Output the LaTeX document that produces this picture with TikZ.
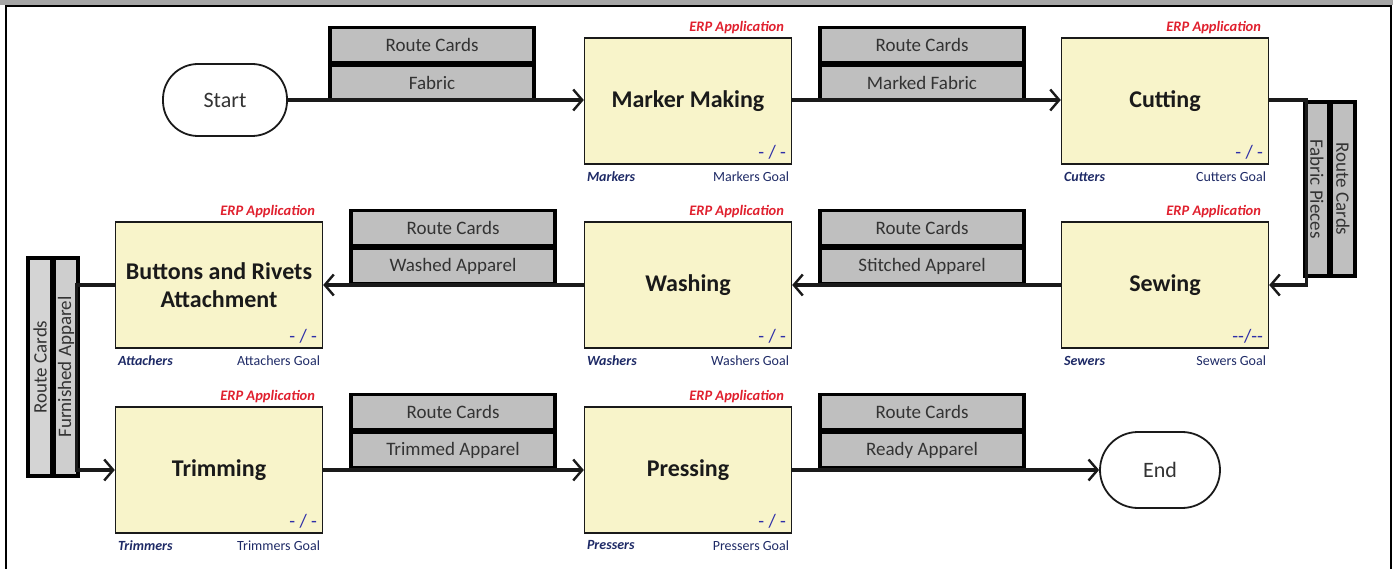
\documentclass[tikz,border=0pt]{standalone}
\usepackage{fontspec}
\setmainfont{Carlito}
\usetikzlibrary{positioning,arrows.meta,calc}
\definecolor{cYellow}{HTML}{F8F4CA}
\definecolor{cCard}{HTML}{BFBFBF}
\definecolor{cCardLight}{HTML}{D4D4D4}
\definecolor{cRed}{HTML}{E0202E}
\definecolor{cNavy}{HTML}{1E2A66}
\definecolor{cBlue}{HTML}{2E2EA8}
\definecolor{cDark}{HTML}{1A1A1A}
\definecolor{cText}{HTML}{333333}
\definecolor{cBand}{HTML}{A5A5A5}

\begin{document}
\begin{tikzpicture}[
  x=1pt, y=-1pt,
  proc/.style={draw=cDark, fill=cYellow, line width=1.4pt, minimum width=207pt,
               minimum height=126pt, inner sep=0pt, align=center, text=cDark,
               font=\fontsize{24}{28}\selectfont\bfseries},
  term/.style={draw=cDark, fill=white, line width=1.8pt, rounded corners=35pt,
               minimum width=124pt, minimum height=72pt, text=cText,
               font=\fontsize{22}{24}\selectfont},
  card/.style={draw=black, fill=cCard, line width=3.4pt, minimum width=204pt,
               minimum height=35pt, inner sep=0pt, text=cText,
               font=\fontsize{19}{21}\selectfont},
  vcard/.style={card, minimum height=24pt},
  flow/.style={-{Straight Barb[length=9pt, width=21pt, line width=2.4pt]}, draw=cDark, line width=3.2pt},
  erp/.style={font=\fontsize{14.5}{15}\selectfont\bfseries\itshape, text=cRed, inner sep=1pt},
  crew/.style={font=\fontsize{14}{15}\selectfont\bfseries\itshape, text=cNavy, inner sep=1pt},
  goal/.style={font=\fontsize{14}{15}\selectfont, text=cNavy, inner sep=1pt},
  ratio/.style={font=\fontsize{19}{20}\selectfont, text=cBlue, inner sep=1pt},
]
\useasboundingbox (0,0) rectangle (1393,569);
% ---- frame
\fill[cBand] (0,0) rectangle (1393,5);
\draw[line width=2.4pt] (6,569) -- (6,6) -- (1391,6) -- (1391,569);

% ---- row 1
\node[term] (start) at (225,100) {Start};
\node[proc] (marker) at (688,101) {Marker Making};
\node[proc] (cutting) at (1165,101) {Cutting};
\node[card] (rc1) at (432,45) {Route Cards};
\node[card] (fabric) at (432,83) {Fabric};
\node[card] (rc2) at (922,45) {Route Cards};
\node[card] (marked) at (922,83) {Marked Fabric};
\draw[flow] (start.east) -- (start.east -| marker.west);
\draw[flow] (marker.east |- start.east) -- (start.east -| cutting.west);

% ---- row 2
\node[proc] (sewing) at (1165,285) {Sewing};
\node[proc] (washing) at (688,285) {Washing};
\node[proc] (buttons) at (219,285) {Buttons and Rivets\\Attachment};
\node[card] (rc3) at (922,228) {Route Cards};
\node[card] (stitched) at (922,266) {Stitched Apparel};
\node[card] (rc4) at (453,228) {Route Cards};
\node[card] (washed) at (453,266) {Washed Apparel};
\draw[flow] (sewing) -- (washing);
\draw[flow] (washing) -- (buttons);

% ---- row 3
\node[proc] (trimming) at (219,470) {Trimming};
\node[proc] (pressing) at (688,470) {Pressing};
\node[term, minimum width=120pt, minimum height=76pt, rounded corners=38pt] (end) at (1160,470) {End};
\node[card] (rc5) at (453,412) {Route Cards};
\node[card] (trimmed) at (453,450) {Trimmed Apparel};
\node[card] (rc6) at (922,412) {Route Cards};
\node[card] (ready) at (922,450) {Ready Apparel};
\draw[flow] (trimming) -- (pressing);
\draw[flow] (pressing) -- (end);

% ---- turns between rows
\node[vcard, rotate=-90, minimum width=174pt] (pieces) at (1317,189) {Fabric Pieces};
\node[vcard, rotate=-90, minimum width=174pt] (rc7) at (1343,189) {Route Cards};
\node[vcard, rotate=90, minimum width=218pt, fill=cCardLight] (rc8) at (40,367) {Route Cards};
\node[vcard, rotate=90, minimum width=218pt, fill=cCardLight!70!cCard] (furnished) at (66,367) {Furnished Apparel};
\draw[flow] (start.east -| cutting.east) -- ++(37,0) |- (sewing.east);
\draw[flow] (buttons.west) -- ++(-38,0) |- (trimming.west);

% ---- station labels
\node[erp, anchor=south east] (erp1) at ([xshift=-7pt,yshift=2pt]marker.north east) {ERP Application};
\node[crew, anchor=north west] (crew1) at ([xshift=2pt,yshift=-6pt]marker.south west) {Markers};
\node[goal, anchor=north east] (goal1) at ([xshift=-2pt,yshift=-6pt]marker.south east) {Markers Goal};
\node[ratio, anchor=south east] (ratio1) at ([xshift=-5pt,yshift=4pt]marker.south east) {- / -};

\node[erp, anchor=south east] (erp2) at ([xshift=-7pt,yshift=2pt]cutting.north east) {ERP Application};
\node[crew, anchor=north west] (crew2) at ([xshift=2pt,yshift=-6pt]cutting.south west) {Cutters};
\node[goal, anchor=north east] (goal2) at ([xshift=-2pt,yshift=-6pt]cutting.south east) {Cutters Goal};
\node[ratio, anchor=south east] (ratio2) at ([xshift=-5pt,yshift=4pt]cutting.south east) {- / -};

\node[erp, anchor=south east] (erp3) at ([xshift=-7pt,yshift=2pt]sewing.north east) {ERP Application};
\node[crew, anchor=north west] (crew3) at ([xshift=2pt,yshift=-6pt]sewing.south west) {Sewers};
\node[goal, anchor=north east] (goal3) at ([xshift=-2pt,yshift=-6pt]sewing.south east) {Sewers Goal};
\node[ratio, anchor=south east] (ratio3) at ([xshift=-5pt,yshift=4pt]sewing.south east) {-{}-/-{}-};

\node[erp, anchor=south east] (erp4) at ([xshift=-7pt,yshift=2pt]washing.north east) {ERP Application};
\node[crew, anchor=north west] (crew4) at ([xshift=2pt,yshift=-6pt]washing.south west) {Washers};
\node[goal, anchor=north east] (goal4) at ([xshift=-2pt,yshift=-6pt]washing.south east) {Washers Goal};
\node[ratio, anchor=south east] (ratio4) at ([xshift=-5pt,yshift=4pt]washing.south east) {- / -};

\node[erp, anchor=south east] (erp5) at ([xshift=-7pt,yshift=2pt]buttons.north east) {ERP Application};
\node[crew, anchor=north west] (crew5) at ([xshift=2pt,yshift=-6pt]buttons.south west) {Attachers};
\node[goal, anchor=north east] (goal5) at ([xshift=-2pt,yshift=-6pt]buttons.south east) {Attachers Goal};
\node[ratio, anchor=south east] (ratio5) at ([xshift=-5pt,yshift=4pt]buttons.south east) {- / -};

\node[erp, anchor=south east] (erp6) at ([xshift=-7pt,yshift=2pt]trimming.north east) {ERP Application};
\node[crew, anchor=north west] (crew6) at ([xshift=2pt,yshift=-6pt]trimming.south west) {Trimmers};
\node[goal, anchor=north east] (goal6) at ([xshift=-2pt,yshift=-6pt]trimming.south east) {Trimmers Goal};
\node[ratio, anchor=south east] (ratio6) at ([xshift=-5pt,yshift=4pt]trimming.south east) {- / -};

\node[erp, anchor=south east] (erp7) at ([xshift=-7pt,yshift=2pt]pressing.north east) {ERP Application};
\node[crew, anchor=north west] (crew7) at ([xshift=2pt,yshift=-6pt]pressing.south west) {Pressers};
\node[goal, anchor=north east] (goal7) at ([xshift=-2pt,yshift=-6pt]pressing.south east) {Pressers Goal};
\node[ratio, anchor=south east] (ratio7) at ([xshift=-5pt,yshift=4pt]pressing.south east) {- / -};
\end{tikzpicture}
\end{document}
